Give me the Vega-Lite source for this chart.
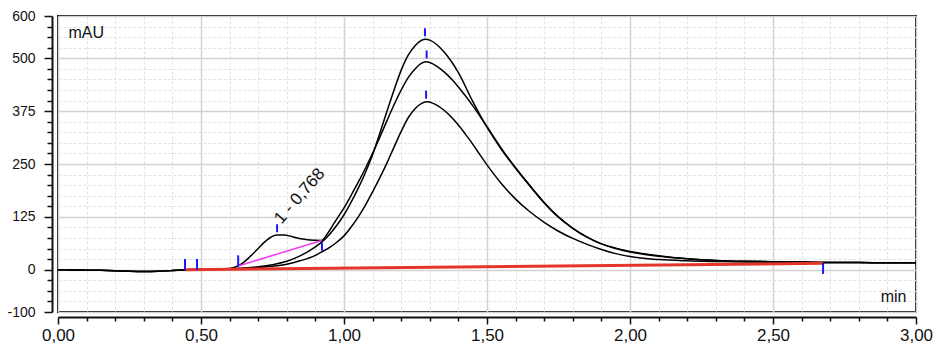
{
  "$schema": "https://vega.github.io/schema/vega-lite/v6.json",
  "width": 858,
  "height": 296,
  "autosize": {"type": "none"},
  "padding": {"left": 58, "top": 16, "right": 30, "bottom": 50},
  "background": "white",
  "config": {"view": {"stroke": "#111111", "strokeWidth": 2}, "font": "Liberation Sans"},
  "datasets": {
    "curves": [
      {"s":"A","t":0,"v":0},{"s":"A","t":0.05,"v":-0.5},{"s":"A","t":0.1,"v":-1},{"s":"A","t":0.15,"v":-1.5},{"s":"A","t":0.2,"v":-2.5},{"s":"A","t":0.25,"v":-3.5},{"s":"A","t":0.3,"v":-4},{"s":"A","t":0.35,"v":-3.5},{"s":"A","t":0.4,"v":-2},{"s":"A","t":0.44,"v":-0.5},{"s":"A","t":0.48,"v":0.5},{"s":"A","t":0.52,"v":1},{"s":"A","t":0.56,"v":1.5},{"s":"A","t":0.6,"v":2.5},
      {"s":"A","t":0.65,"v":4},{"s":"A","t":0.7,"v":7},{"s":"A","t":0.75,"v":12},{"s":"A","t":0.8,"v":20},{"s":"A","t":0.85,"v":34},{"s":"A","t":0.9,"v":54},{"s":"A","t":0.925,"v":67},{"s":"A","t":0.95,"v":84},{"s":"A","t":0.975,"v":105},{"s":"A","t":1.0,"v":130},{"s":"A","t":1.025,"v":160},{"s":"A","t":1.05,"v":193},{"s":"A","t":1.075,"v":230},{"s":"A","t":1.1,"v":272},{"s":"A","t":1.125,"v":322},{"s":"A","t":1.15,"v":374},{"s":"A","t":1.175,"v":425},{"s":"A","t":1.2,"v":472},{"s":"A","t":1.225,"v":508},{"s":"A","t":1.25,"v":531},{"s":"A","t":1.27,"v":542},{"s":"A","t":1.285,"v":545},{"s":"A","t":1.3,"v":543},{"s":"A","t":1.325,"v":532},{"s":"A","t":1.35,"v":515},{"s":"A","t":1.375,"v":493},{"s":"A","t":1.4,"v":466},{"s":"A","t":1.45,"v":398},{"s":"A","t":1.5,"v":337},{"s":"A","t":1.55,"v":285},{"s":"A","t":1.6,"v":240},{"s":"A","t":1.65,"v":198},{"s":"A","t":1.7,"v":158},{"s":"A","t":1.75,"v":124},{"s":"A","t":1.8,"v":98},{"s":"A","t":1.85,"v":77},{"s":"A","t":1.9,"v":61},{"s":"A","t":1.95,"v":51},{"s":"A","t":2.0,"v":43},{"s":"A","t":2.1,"v":33},{"s":"A","t":2.2,"v":26},{"s":"A","t":2.3,"v":22},{"s":"A","t":2.4,"v":20},{"s":"A","t":2.5,"v":19},{"s":"A","t":2.6,"v":18},{"s":"A","t":2.7,"v":17},{"s":"A","t":2.8,"v":17},{"s":"A","t":2.9,"v":16.5},{"s":"A","t":3.0,"v":16.5},
      {"s":"B","t":0,"v":0},{"s":"B","t":0.05,"v":-0.5},{"s":"B","t":0.1,"v":-1},{"s":"B","t":0.15,"v":-1.5},{"s":"B","t":0.2,"v":-2.5},{"s":"B","t":0.25,"v":-3.5},{"s":"B","t":0.3,"v":-4},{"s":"B","t":0.35,"v":-3.5},{"s":"B","t":0.4,"v":-2},{"s":"B","t":0.44,"v":-0.5},{"s":"B","t":0.48,"v":0.5},{"s":"B","t":0.52,"v":1},{"s":"B","t":0.56,"v":1.5},{"s":"B","t":0.6,"v":3},
      {"s":"B","t":0.63,"v":9},{"s":"B","t":0.65,"v":18},{"s":"B","t":0.67,"v":30},{"s":"B","t":0.7,"v":50},{"s":"B","t":0.72,"v":64},{"s":"B","t":0.74,"v":75},{"s":"B","t":0.765,"v":82},{"s":"B","t":0.79,"v":82},{"s":"B","t":0.82,"v":78},{"s":"B","t":0.85,"v":73},{"s":"B","t":0.88,"v":70},{"s":"B","t":0.92,"v":69},{"s":"B","t":0.945,"v":88},{"s":"B","t":0.97,"v":115},{"s":"B","t":1.0,"v":146},{"s":"B","t":1.025,"v":176},{"s":"B","t":1.05,"v":207},{"s":"B","t":1.075,"v":240},{"s":"B","t":1.1,"v":275},{"s":"B","t":1.125,"v":313},{"s":"B","t":1.15,"v":352},{"s":"B","t":1.175,"v":390},{"s":"B","t":1.2,"v":425},{"s":"B","t":1.225,"v":455},{"s":"B","t":1.25,"v":476},{"s":"B","t":1.27,"v":488},{"s":"B","t":1.285,"v":492},{"s":"B","t":1.3,"v":490},{"s":"B","t":1.325,"v":481},{"s":"B","t":1.35,"v":468},{"s":"B","t":1.38,"v":448},{"s":"B","t":1.4,"v":432},{"s":"B","t":1.45,"v":388},{"s":"B","t":1.5,"v":338},{"s":"B","t":1.55,"v":287},{"s":"B","t":1.6,"v":241},{"s":"B","t":1.65,"v":199},{"s":"B","t":1.7,"v":159},{"s":"B","t":1.75,"v":125},{"s":"B","t":1.8,"v":98},{"s":"B","t":1.85,"v":77},{"s":"B","t":1.9,"v":61},{"s":"B","t":1.95,"v":50},{"s":"B","t":2.0,"v":42},{"s":"B","t":2.1,"v":32},{"s":"B","t":2.2,"v":26},{"s":"B","t":2.3,"v":22},{"s":"B","t":2.4,"v":20},{"s":"B","t":2.5,"v":19},{"s":"B","t":2.6,"v":18},{"s":"B","t":2.7,"v":17},{"s":"B","t":2.8,"v":17},{"s":"B","t":2.9,"v":16.5},{"s":"B","t":3.0,"v":16.5},
      {"s":"C","t":0,"v":0},{"s":"C","t":0.05,"v":-0.5},{"s":"C","t":0.1,"v":-1},{"s":"C","t":0.15,"v":-1.5},{"s":"C","t":0.2,"v":-2.5},{"s":"C","t":0.25,"v":-3.5},{"s":"C","t":0.3,"v":-4},{"s":"C","t":0.35,"v":-3.5},{"s":"C","t":0.4,"v":-2},{"s":"C","t":0.44,"v":-0.5},{"s":"C","t":0.48,"v":0.5},{"s":"C","t":0.52,"v":1},{"s":"C","t":0.56,"v":1.5},{"s":"C","t":0.6,"v":2},
      {"s":"C","t":0.65,"v":3},{"s":"C","t":0.7,"v":5},{"s":"C","t":0.75,"v":8},{"s":"C","t":0.8,"v":13},{"s":"C","t":0.846,"v":21},{"s":"C","t":0.9,"v":34},{"s":"C","t":0.922,"v":42},{"s":"C","t":0.95,"v":53},{"s":"C","t":0.975,"v":65},{"s":"C","t":1.0,"v":80},{"s":"C","t":1.025,"v":101},{"s":"C","t":1.05,"v":125},{"s":"C","t":1.075,"v":153},{"s":"C","t":1.1,"v":184},{"s":"C","t":1.125,"v":217},{"s":"C","t":1.15,"v":252},{"s":"C","t":1.175,"v":290},{"s":"C","t":1.2,"v":327},{"s":"C","t":1.225,"v":360},{"s":"C","t":1.25,"v":382},{"s":"C","t":1.27,"v":393},{"s":"C","t":1.29,"v":397},{"s":"C","t":1.31,"v":394},{"s":"C","t":1.33,"v":387},{"s":"C","t":1.35,"v":377},{"s":"C","t":1.375,"v":361},{"s":"C","t":1.4,"v":342},{"s":"C","t":1.425,"v":320},{"s":"C","t":1.45,"v":297},{"s":"C","t":1.475,"v":272},{"s":"C","t":1.5,"v":248},{"s":"C","t":1.55,"v":204},{"s":"C","t":1.6,"v":167},{"s":"C","t":1.65,"v":137},{"s":"C","t":1.7,"v":112},{"s":"C","t":1.75,"v":91},{"s":"C","t":1.8,"v":74},{"s":"C","t":1.85,"v":60},{"s":"C","t":1.9,"v":48},{"s":"C","t":1.95,"v":38},{"s":"C","t":2.0,"v":31},{"s":"C","t":2.1,"v":24},{"s":"C","t":2.2,"v":21},{"s":"C","t":2.3,"v":19.5},{"s":"C","t":2.4,"v":18.5},{"s":"C","t":2.5,"v":18},{"s":"C","t":2.6,"v":17.5},{"s":"C","t":2.7,"v":17},{"s":"C","t":2.8,"v":17},{"s":"C","t":2.9,"v":16.5},{"s":"C","t":3.0,"v":16.5}
    ],
    "baseline": [{"t":0.445,"v":0},{"t":2.675,"v":15}],
    "dropline": [{"t":0.63,"v":9},{"t":0.922,"v":69}],
    "markers": [
      {"t":0.444,"v":12.5,"kind":"long"},{"t":0.486,"v":12.5,"kind":"long"},{"t":0.63,"v":21,"kind":"long"},{"t":2.675,"v":3,"kind":"long"},
      {"t":0.766,"v":98,"kind":"short"},{"t":0.923,"v":54.5,"kind":"short"},{"t":1.283,"v":561.5,"kind":"short"},{"t":1.289,"v":509,"kind":"short"},{"t":1.287,"v":414,"kind":"short"}
    ],
    "labels": [{"t":0.768,"v":114,"label":"1 - 0,768"}]
  },
  "resolve": {"axis": {"x": "independent", "y": "independent"}},
  "layer": [
    {
      "data": {"name": "curves"},
      "mark": {"type": "line", "color": "#000000", "strokeWidth": 1.5, "interpolate": "monotone"},
      "encoding": {
        "x": {"field": "t", "type": "quantitative", "scale": {"domain": [0, 3], "nice": false, "zero": false},
          "axis": {"orient": "bottom", "offset": 5, "values": [0.1,0.2,0.3,0.4,0.6,0.7,0.8,0.9,1.1,1.2,1.3,1.4,1.6,1.7,1.8,1.9,2.1,2.2,2.3,2.4,2.6,2.7,2.8,2.9],
            "labels": false, "domain": false, "grid": true, "gridColor": "#e2e2e2", "gridDash": [3, 2], "gridWidth": 1,
            "ticks": true, "tickSize": 4, "tickColor": "#111111", "tickWidth": 1.5, "title": null}},
        "y": {"field": "v", "type": "quantitative", "scale": {"domain": [-100, 600], "nice": false, "zero": false},
          "axis": {"orient": "left", "offset": 6, "values": [-75,-50,-25,25,50,75,100,150,175,200,225,275,300,325,350,400,425,450,475,525,550,575],
            "labels": false, "domain": false, "grid": true, "gridColor": "#e2e2e2", "gridDash": [3, 2], "gridWidth": 1,
            "ticks": true, "tickSize": 5, "tickColor": "#111111", "tickWidth": 1.5, "title": null}},
        "detail": {"field": "s", "type": "nominal"}
      }
    },
    {
      "data": {"name": "baseline"},
      "mark": {"type": "line", "color": "#e5352b", "strokeWidth": 3},
      "encoding": {
        "x": {"field": "t", "type": "quantitative",
          "axis": {"orient": "bottom", "offset": 5, "values": [0, 0.5, 1, 1.5, 2, 2.5, 3],
            "grid": true, "gridColor": "#d2d2d2", "gridWidth": 1.5,
            "domain": true, "domainColor": "#111111", "domainWidth": 2,
            "ticks": true, "tickSize": 7, "tickColor": "#111111", "tickWidth": 1.5,
            "labelFontSize": 17, "labelColor": "#111111", "labelPadding": 3, "labelFlush": false, "labelOverlap": false,
            "labelExpr": "replace(format(datum.value, '.2f'), '.', ',')",
            "title": "min", "titleFontSize": 16, "titleFontWeight": "normal", "titleColor": "#111111",
            "titleX": 848, "titleY": -16, "titleAlign": "right", "titleBaseline": "alphabetic", "titleAnchor": null}},
        "y": {"field": "v", "type": "quantitative",
          "axis": {"orient": "left", "offset": 6, "values": [-100, 0, 125, 250, 375, 500, 600],
            "grid": true, "gridColor": "#d2d2d2", "gridWidth": 1.5,
            "domain": true, "domainColor": "#111111", "domainWidth": 2,
            "ticks": true, "tickSize": 8, "tickColor": "#111111", "tickWidth": 1.5,
            "labelFontSize": 14, "labelColor": "#111111", "labelPadding": 9, "labelFlush": false, "labelOverlap": false,
            "labelExpr": "'' + datum.value",
            "title": "mAU", "titleFontSize": 16, "titleFontWeight": "normal", "titleColor": "#111111", "titleAngle": 0,
            "titleX": 16, "titleY": 21, "titleAlign": "left", "titleBaseline": "alphabetic", "titleAnchor": null}}
      }
    },
    {
      "data": {"name": "dropline"},
      "mark": {"type": "line", "color": "#f03cf0", "strokeWidth": 1.5},
      "encoding": {
        "x": {"field": "t", "type": "quantitative", "axis": null},
        "y": {"field": "v", "type": "quantitative", "axis": null}
      }
    },
    {
      "data": {"name": "markers"},
      "transform": [{"filter": "datum.kind === 'long'"}],
      "mark": {"type": "tick", "orient": "vertical", "color": "#1a1aff", "size": 11, "thickness": 2, "opacity": 1},
      "encoding": {
        "x": {"field": "t", "type": "quantitative", "axis": null},
        "y": {"field": "v", "type": "quantitative", "axis": null}
      }
    },
    {
      "data": {"name": "markers"},
      "transform": [{"filter": "datum.kind === 'short'"}],
      "mark": {"type": "tick", "orient": "vertical", "color": "#1a1aff", "size": 8, "thickness": 2, "opacity": 1},
      "encoding": {
        "x": {"field": "t", "type": "quantitative", "axis": null},
        "y": {"field": "v", "type": "quantitative", "axis": null}
      }
    },
    {
      "data": {"name": "labels"},
      "mark": {"type": "text", "angle": -49, "align": "left", "baseline": "middle", "fontSize": 17, "color": "#111111"},
      "encoding": {
        "x": {"field": "t", "type": "quantitative", "axis": null},
        "y": {"field": "v", "type": "quantitative", "axis": null},
        "text": {"field": "label", "type": "nominal"}
      }
    }
  ]
}
